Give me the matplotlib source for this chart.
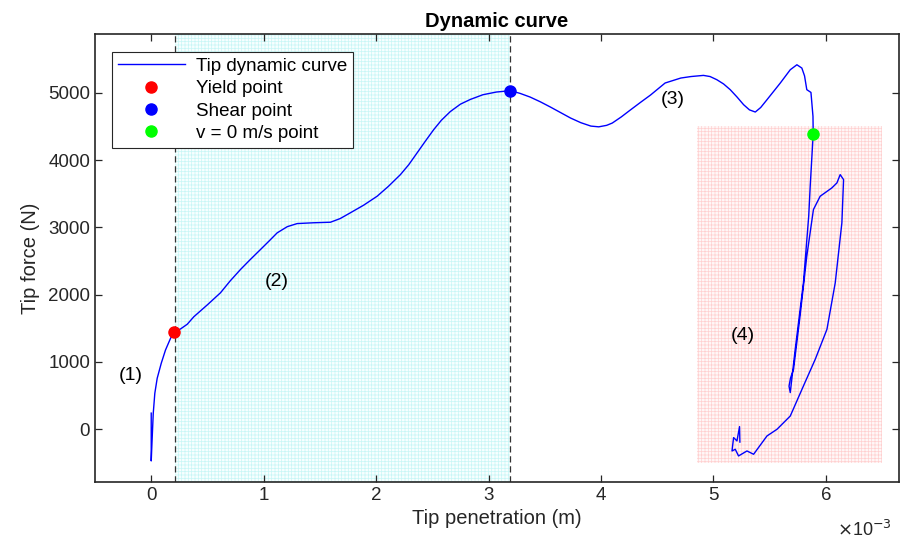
import numpy as np
from matplotlib import pyplot as plt
from matplotlib.patches import Rectangle
from matplotlib.ticker import FuncFormatter

# tip penetration (mm, scaled to m below) and tip force (N)
pen_mm = [0.0, 0.0, 0.009, 0.018, 0.032, 0.053, 0.089, 0.127, 0.172, 0.205,
          0.26, 0.32, 0.379, 0.50, 0.616, 0.70, 0.794, 0.88, 0.972, 1.05, 1.12,
          1.21, 1.298, 1.445, 1.594, 1.68, 1.77, 1.89, 2.009, 2.11, 2.216,
          2.29, 2.364, 2.44, 2.512, 2.58, 2.66, 2.75, 2.838, 2.95, 3.07, 3.195,
          3.28, 3.37, 3.46, 3.55, 3.64, 3.73, 3.82, 3.91, 3.98, 4.05, 4.10,
          4.18, 4.26, 4.35, 4.44, 4.57, 4.71, 4.80, 4.911, 4.97,
          5.03, 5.09, 5.149, 5.21, 5.268, 5.32, 5.372, 5.42, 5.476, 5.594,
          5.683, 5.742, 5.786, 5.81, 5.83, 5.867, 5.885, 5.887,
          5.86, 5.847, 5.80, 5.727, 5.683, 5.672, 5.685, 5.712, 5.77, 5.83,
          5.889, 5.949, 6.053, 6.098, 6.127, 6.157, 6.142, 6.083, 6.009, 5.905,
          5.80, 5.683, 5.565, 5.476, 5.357, 5.298, 5.223, 5.194, 5.165, 5.179,
          5.209, 5.232, 5.235]
force = [240, -470, -110, 237, 535, 757, 980, 1178, 1352, 1445,
         1490, 1560, 1672, 1850, 2028, 2200, 2374, 2520, 2671, 2800, 2918,
         3010, 3056, 3068, 3076, 3130, 3215, 3330, 3462, 3610, 3783,
         3930, 4105, 4285, 4451, 4590, 4720, 4830, 4900, 4970, 5010, 5030,
         4990, 4935, 4865, 4787, 4705, 4623, 4555, 4504, 4493, 4515, 4549,
         4640, 4742, 4855, 4965, 5144, 5218, 5240, 5257, 5240,
         5193, 5130, 5045, 4935, 4822, 4745, 4713, 4780, 4896, 5143,
         5341, 5415, 5366, 5250, 5045, 5004, 4649, 4392,
         3600, 3165, 2176, 1187, 545, 640, 760, 890, 1681, 2571,
         3264, 3462, 3586, 3660, 3783, 3709, 3067, 2176, 1484, 1039,
         643, 197, 0, -99, -371, -322, -396, -297, -322, -123,
         -173, 40, -190]
pen = np.array(pen_mm) * 1e-3

yield_pt = (0.205e-3, 1445)
shear_pt = (3.195e-3, 5030)
v0_pt = (5.887e-3, 4392)

# stage boundaries and the stage (4) box
stage2 = (0.207e-3, 3.195e-3)
stage4_x = (4.85e-3, 6.50e-3)
stage4_y = (-500, 4500)

labels = ['(1)', '(2)', '(3)', '(4)']
label_x = [-0.184e-3, 1.114e-3, 4.634e-3, 5.265e-3]
label_y = [806, 2198, 4905, 1386]

plt.rcParams['font.family'] = ['Liberation Sans', 'DejaVu Sans']
plt.rcParams['hatch.linewidth'] = 0.5

fig = plt.figure(figsize=(9.02, 5.44), dpi=100)
ax = fig.add_axes([95 / 902, 62 / 544, 804 / 902, 448 / 544])

ax.axvspan(stage2[0], stage2[1], facecolor='#f6ffff', edgecolor='#c8f6f6',
           hatch='+++++', linewidth=0, zorder=0)
ax.add_patch(Rectangle((stage4_x[0], stage4_y[0]), stage4_x[1] - stage4_x[0],
                       stage4_y[1] - stage4_y[0], facecolor='#fff7f7',
                       edgecolor='#ffd0d0', hatch='+++++', linewidth=0, zorder=0))

for xb in stage2:
    ax.axvline(xb, color='#333333', linestyle=(0, (5, 3)), linewidth=0.9, zorder=1)

ax.plot(pen, force, color='#0000ff', linewidth=1.0, label='Tip dynamic curve', zorder=2)
ax.plot(*yield_pt, 'o', color='#ff0000', markersize=8, linestyle='none',
        label='Yield point', zorder=3)
ax.plot(*shear_pt, 'o', color='#0000ff', markersize=8, linestyle='none',
        label='Shear point', zorder=3)
ax.plot(*v0_pt, 'o', color='#00ff00', markersize=8, linestyle='none',
        label='v = 0 m/s point', zorder=3)

for t, lx, ly in zip(labels, label_x, label_y):
    ax.text(lx, ly, t, fontsize=14, ha='center', va='center')

ax.set_xlim(-0.5e-3, 6.65e-3)
ax.set_ylim(-783, 5872)
ax.set_xticks(np.arange(0, 7) * 1e-3)
ax.set_yticks(np.arange(0, 6000, 1000))
ax.xaxis.set_major_formatter(FuncFormatter(lambda v, p: '%g' % round(v * 1e3, 6)))
fig.text(864 / 902, 14 / 544, r'$\times$10$^{-3}$', fontsize=13, color='#262626',
         ha='center', va='center')

ax.tick_params(direction='in', top=True, right=True, length=5, width=0.9,
               labelsize=13.5, colors='#262626', labelcolor='#262626')
for s in ax.spines.values():
    s.set_linewidth(1.2)
    s.set_color('#262626')

ax.set_xlabel('Tip penetration (m)', fontsize=14.5, color='#262626')
ax.set_ylabel('Tip force (N)', fontsize=14.5, color='#262626', labelpad=6)
ax.set_title('Dynamic curve', fontsize=14.5, fontweight='bold', pad=5)

leg = ax.legend(loc='upper left', bbox_to_anchor=(17 / 804, 1 - 18 / 448),
                borderaxespad=0, fontsize=13.5, fancybox=False, framealpha=1,
                edgecolor='#262626', handlelength=3.6, handletextpad=0.6,
                borderpad=0.3, labelspacing=0.28)
leg.get_frame().set_linewidth(0.8)

fig.savefig('out.png', dpi=100)
